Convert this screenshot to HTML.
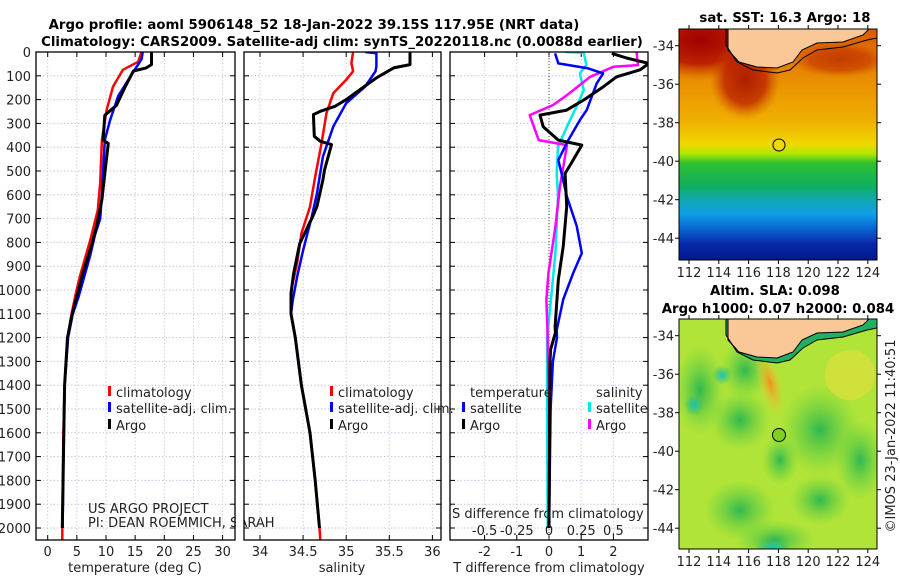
<!DOCTYPE html>
<html><head><meta charset="utf-8">
<style>
html,body{margin:0;padding:0;background:#fff;}
svg{display:block;font-family:"DejaVu Sans","Liberation Sans",sans-serif;}
.t{font-weight:bold;font-size:13.3px;fill:#000;}
.tk{font-size:13px;fill:#222;}
.lg{font-size:13px;fill:#222;}
</style></head>
<body>
<svg id="fig" width="900" height="580" viewBox="0 0 900 580" xmlns="http://www.w3.org/2000/svg">
<defs>
<clipPath id="c1"><rect x="36" y="52" width="199" height="488"/></clipPath>
<clipPath id="c2"><rect x="244" y="52" width="197" height="488"/></clipPath>
<clipPath id="c3"><rect x="450" y="52" width="198" height="488"/></clipPath>
<clipPath id="cm1"><rect x="679" y="29" width="198" height="231"/></clipPath>
<clipPath id="cm2"><rect x="679" y="319" width="198" height="230"/></clipPath>
<linearGradient id="sstg" x1="0" y1="0" x2="0" y2="1">
<stop offset="0" stop-color="#d85a00"/><stop offset="0.2" stop-color="#e88a00"/>
<stop offset="0.4" stop-color="#f0b000"/><stop offset="0.5" stop-color="#f0d800"/>
<stop offset="0.54" stop-color="#b0e800"/><stop offset="0.58" stop-color="#30c030"/>
<stop offset="0.68" stop-color="#10b060"/><stop offset="0.74" stop-color="#10a8b0"/>
<stop offset="0.8" stop-color="#10a0e8"/><stop offset="0.87" stop-color="#0860d0"/>
<stop offset="0.93" stop-color="#0828a8"/><stop offset="1" stop-color="#001890"/>
</linearGradient>
<radialGradient id="redb"><stop offset="0" stop-color="#a00000"/><stop offset="0.6" stop-color="#b81800" stop-opacity="0.9"/><stop offset="1" stop-color="#d05000" stop-opacity="0"/></radialGradient>
<radialGradient id="grb"><stop offset="0" stop-color="#30b850"/><stop offset="1" stop-color="#60d040" stop-opacity="0"/></radialGradient>
<radialGradient id="orb"><stop offset="0" stop-color="#f09020"/><stop offset="1" stop-color="#f0d030" stop-opacity="0"/></radialGradient>
<radialGradient id="cyb"><stop offset="0" stop-color="#10c8c0"/><stop offset="1" stop-color="#30b870" stop-opacity="0"/></radialGradient>
</defs>

<text class="t" x="314" y="29" text-anchor="middle">Argo profile: aoml 5906148_52 18-Jan-2022 39.15S 117.95E (NRT data)</text>
<text class="t" x="342" y="46" text-anchor="middle">Climatology: CARS2009. Satellite-adj clim: synTS_20220118.nc (0.0088d earlier)</text>

<g id="p1"></g>
<g id="p2"></g>
<g id="p3"></g>

<!-- SST map -->
<g>
<g clip-path="url(#cm1)">
<rect x="679" y="29" width="198" height="231" fill="url(#sstg)"/>
<ellipse cx="700" cy="40" rx="70" ry="40" fill="url(#redb)"/>
<ellipse cx="745" cy="80" rx="35" ry="40" fill="url(#redb)" opacity="0.8"/>
<ellipse cx="840" cy="60" rx="50" ry="18" fill="url(#redb)" opacity="0.5"/>
<path d="M728,29 L728,50 739,62 757,67 777,68 793,62 802,50 817,43 843,42 863,35 870,28 Z" fill="#f9c896"/>
<path d="M728,29 L728,50 739,62 757,67 777,68 793,62 802,50 817,43 843,42 863,35 870,28" fill="none" stroke="#000"/>
<path d="M726,29 L726,45 737,62 753,70 777,73 790,70 803,58 817,50 843,47 867,40 877,38" fill="none" stroke="#000"/>
</g>
<rect x="679" y="29" width="198" height="231" fill="none" stroke="#000"/>
<circle cx="779" cy="145" r="6" fill="#f0d800" stroke="#000"/>
<text class="t" x="785" y="22" text-anchor="middle">sat. SST: 16.3 Argo: 18</text>
</g>

<!-- SLA map -->
<g>
<g clip-path="url(#cm2)">
<rect x="679" y="319" width="198" height="230" fill="#b0e438"/>
<ellipse cx="700" cy="390" rx="25" ry="45" fill="url(#grb)"/>
<ellipse cx="740" cy="420" rx="30" ry="30" fill="url(#grb)"/>
<ellipse cx="820" cy="430" rx="40" ry="45" fill="url(#grb)"/>
<ellipse cx="860" cy="460" rx="25" ry="40" fill="url(#grb)"/>
<ellipse cx="740" cy="510" rx="35" ry="30" fill="url(#grb)"/>
<ellipse cx="820" cy="500" rx="30" ry="25" fill="url(#grb)"/>
<ellipse cx="775" cy="540" rx="40" ry="20" fill="url(#grb)"/>
<ellipse cx="780" cy="460" rx="18" ry="25" fill="url(#grb)"/>
<ellipse cx="745" cy="370" rx="25" ry="30" fill="url(#grb)"/>
<ellipse cx="770" cy="383" rx="12" ry="35" fill="url(#orb)" transform="rotate(-15 770 383)"/>
<ellipse cx="850" cy="375" rx="25" ry="25" fill="#e8e040" opacity="0.6"/>
<ellipse cx="694" cy="405" rx="10" ry="11" fill="url(#cyb)"/>
<ellipse cx="722" cy="375" rx="10" ry="10" fill="url(#cyb)"/>
<ellipse cx="773" cy="548" rx="18" ry="10" fill="url(#cyb)"/>
<path d="M726,319 L726,335 737,352 753,360 777,363 790,360 803,348 817,340 843,337 867,330 877,328 L877,319 Z" fill="#20b060"/>
<path d="M728,319 L728,340 739,352 757,357 777,358 793,352 802,340 817,333 843,332 863,325 870,318 Z" fill="#f9c896"/>
<path d="M728,319 L728,340 739,352 757,357 777,358 793,352 802,340 817,333 843,332 863,325 870,318" fill="none" stroke="#000"/>
<path d="M726,319 L726,335 737,352 753,360 777,363 790,360 803,348 817,340 843,337 867,330 877,328" fill="none" stroke="#000"/>
</g>
<rect x="679" y="319" width="198" height="230" fill="none" stroke="#000"/>
<circle cx="779" cy="435" r="6.5" fill="#80d020" stroke="#000"/>
<text class="t" x="775" y="295" text-anchor="middle">Altim. SLA: 0.098</text>
<text class="t" x="778" y="313" text-anchor="middle">Argo h1000: 0.07 h2000: 0.084</text>
</g>
<g id="maxes"></g>
<text class="tk" transform="translate(895,436) rotate(-90)" text-anchor="middle">©IMOS 23-Jan-2022 11:40:51</text>

<script>
// ---- data ----
var depthTicks=[0,100,200,300,400,500,600,700,800,900,1000,1100,1200,1300,1400,1500,1600,1700,1800,1900,2000];
var tempTicks=[0,5,10,15,20,25,30];
var salTicks=[34,34.5,35,35.5,36];
var diffTicks=[-2,-1,0,1,2];
var sdiffLabels=["-0.5","-0.25","0","0.25","0.5"];
var sdiffTicks=[-0.5,-0.25,0,0.25,0.5];

var tClimD=[0,41,75,146,244,370,551,664,790,944,1028,1100,1200,1400,1600,2000,2050];
var tClimV=[16.1,15.5,12.9,11.2,10.1,9.3,9.0,8.6,7.3,5.5,4.7,4.1,3.4,2.9,2.7,2.5,2.5];
var tSatD=[0,30,83,185,286,370,600,700,770,853,1028,1100,1200,1400,1700,2000];
var tSatV=[16.3,16.1,14.7,12.1,10.7,9.8,9.3,9.0,8.1,7.3,5.3,4.3,3.5,2.9,2.7,2.55];
var tArgoD=[0,53,67,80,146,224,266,370,384,510,620,730,815,940,1028,1100,1200,1400,2000];
var tArgoV=[17.8,17.8,16.9,14.7,13.3,11.8,9.8,9.5,10.4,9.8,9.3,8.4,7.5,5.9,5.0,4.2,3.4,2.9,2.5];

var sClimD=[0,47,81,117,173,258,370,524,650,762,888,986,1035,1100,1200,1400,1600,1800,2000,2050];
var sClimV=[35.08,35.06,35.08,35.0,34.85,34.77,34.72,34.64,34.58,34.48,34.43,34.37,34.36,34.36,34.41,34.48,34.58,34.64,34.69,34.7];
var sSatD=[0,5,60,81,145,215,313,440,595,693,833,945,1042,1100,1200,1400,1600,1800,2000];
var sSatV=[35.22,35.35,35.35,35.34,35.22,35.0,34.85,34.73,34.66,34.6,34.5,34.43,34.38,34.36,34.41,34.48,34.58,34.64,34.69];
var sArgoD=[0,53,67,109,158,200,228,249,263,354,375,389,494,537,650,692,805,931,1014,1100,1200,1400,1600,1800,2000];
var sArgoV=[35.74,35.74,35.55,35.35,35.16,35.0,34.87,34.7,34.62,34.63,34.7,34.83,34.75,34.73,34.66,34.61,34.46,34.39,34.36,34.36,34.41,34.48,34.58,34.64,34.69];

var dTSatD=[6,48,69,90,132,244,286,370,454,510,605,731,845,930,1040,1168,1200,1300,1500,2000];
var dTSatV=[0.19,0.29,1.22,1.68,1.48,1.17,0.96,0.6,0.29,0.39,0.55,0.86,1.02,0.75,0.44,0.24,0.25,0.12,0.05,0.0];
var dTArgoD=[6,25,48,75,104,146,202,244,265,314,370,391,466,510,650,818,958,1154,1180,1250,1300,2000];
var dTArgoV=[1.95,2.41,3.1,2.83,2.1,1.69,1.07,0.55,-0.28,-0.18,0.29,1.02,0.7,0.5,0.55,0.44,0.29,0.19,0.2,0.05,0.03,0.0];
var dSArgoD=[0,55,62,104,181,223,265,370,391,566,734,930,1040,1200,1500,2000];
var dSArgoV=[0.68,0.69,0.5,0.32,0.14,0.03,-0.15,-0.08,0.14,0.085,0.05,-0.005,-0.02,-0.01,0,0];
var dSSatD=[0,3,55,90,160,244,314,398,510,608,845,1070,1200,1500,2000];
var dSSatV=[0.125,0.27,0.29,0.24,0.27,0.2,0.14,0.07,0.06,0.07,0.05,0.01,-0.015,-0.015,-0.01];

var lonTicks=[112,114,116,118,120,122,124];
var latTicks=[-34,-36,-38,-40,-42,-44];

// ---- helpers ----
var NS="http://www.w3.org/2000/svg";
function mk(tag,attrs,parent){var e=document.createElementNS(NS,tag);for(var k in attrs)e.setAttribute(k,attrs[k]);parent.appendChild(e);return e;}
function yD(d){return 52+d*0.238;}
function xT(t){return 47.7+t*5.83;}
function xS(s){return 260+(s-34)*86.2;}
function xDf(v){return 549+v*32.2;}
function xSd(v){return 549+v*4*32.2;}

function panel(g,x0,x1,xs,xticks,xfmt,clip,leftLabels){
  var y0=52,y1=540;
  depthTicks.forEach(function(d){
    var ln=mk('line',{x1:x0,x2:x1,y1:yD(d),y2:yD(d),stroke:'#c4c4ee','stroke-dasharray':'1.5,2','stroke-width':1},g);
    
    
    mk('line',{x1:x0,x2:x0+5,y1:yD(d),y2:yD(d),stroke:'#000'},g);
    mk('line',{x1:x1-5,x2:x1,y1:yD(d),y2:yD(d),stroke:'#000'},g);
    if(leftLabels){
      var t=mk('text',{x:31,y:yD(d)+5,'text-anchor':'end','class':'tk'},g);
      t.textContent=d;
      
      
    }
  });
  xticks.forEach(function(v){
    var X=xs(v);
    var ln=mk('line',{x1:X,x2:X,y1:y0,y2:y1,stroke:'#dcc8dc','stroke-dasharray':'1.5,2'},g);
    
    
    mk('line',{x1:X,x2:X,y1:y1-5,y2:y1,stroke:'#000'},g);
    mk('line',{x1:X,x2:X,y1:y0,y2:y0+5,stroke:'#000'},g);
    var t=mk('text',{x:X,y:556,'text-anchor':'middle','class':'tk'},g);
    t.textContent=xfmt(v);
    
    
  });
}
function line(g,D,V,xs,color,w,name){
  var p=D.map(function(d,i){return xs(V[i]).toFixed(1)+','+yD(d).toFixed(1);}).join(' ');
  var e=mk('polyline',{points:p,fill:'none',stroke:color,'stroke-width':w,'stroke-linejoin':'round'},g);
  
  
}
function frame(g,x0,x1){mk('rect',{x:x0,y:52,width:x1-x0,height:488,fill:'none',stroke:'#000','stroke-width':1.3},g);}
function txt(g,x,y,s,cls,name,anchor){
  var t=mk('text',{x:x,y:y,'class':cls,'text-anchor':anchor||'start'},g);t.textContent=s;
  
  
  return t;
}
function leg(g,x,y,color,label,name){
  mk('rect',{x:x,y:y-11,width:3,height:10,fill:color},g);
  txt(g,x+8,y,label,'lg',name);
}

// panel 1
var g1=document.getElementById('p1');
panel(g1,36,235,xT,tempTicks,function(v){return v;},'c1',true);
var c1=mk('g',{'clip-path':'url(#c1)'},g1);
line(c1,tClimD,tClimV,xT,'#ff0000',2.5,'temp-climatology-line');
line(c1,tSatD,tSatV,xT,'#0000ff',2.5,'temp-satellite-line');
line(c1,tArgoD,tArgoV,xT,'#000000',3,'temp-argo-line');
frame(g1,36,235);
txt(g1,135,572,'temperature (deg C)','tk','temp-x-axis-title','middle');
leg(g1,108,397,'#ff0000','climatology','legend-climatology');
leg(g1,108,413,'#0000ff','satellite-adj. clim.','legend-satellite');
leg(g1,108,430,'#000','Argo','legend-argo');
txt(g1,88,513,'US ARGO PROJECT','lg','project-label');
txt(g1,88,527,'PI: DEAN ROEMMICH, SARAH','lg','pi-label');

// panel 2
var g2=document.getElementById('p2');
mk('rect',{x:236,y:500,width:8,height:40,fill:'#fff'},g2);
panel(g2,244,441,xS,salTicks,function(v){return v;},'c2',false);
var c2=mk('g',{'clip-path':'url(#c2)'},g2);
line(c2,sClimD,sClimV,xS,'#ff0000',2.5,'sal-climatology-line');
line(c2,sSatD,sSatV,xS,'#0000ff',2.5,'sal-satellite-line');
line(c2,sArgoD,sArgoV,xS,'#000000',3,'sal-argo-line');
frame(g2,244,441);
txt(g2,342,572,'salinity','tk','sal-x-axis-title','middle');
leg(g2,330,397,'#ff0000','climatology','legend-climatology');
leg(g2,330,413,'#0000ff','satellite-adj. clim.','legend-satellite');
leg(g2,330,430,'#000','Argo','legend-argo');

// panel 3
var g3=document.getElementById('p3');
panel(g3,450,648,xDf,diffTicks,function(v){return v;},'c3',false);
var zl=mk('line',{x1:549,x2:549,y1:52,y2:540,stroke:'#405030','stroke-dasharray':'1,2'},g3);


var c3=mk('g',{'clip-path':'url(#c3)'},g3);
line(c3,dSSatD,dSSatV,xSd,'#00e8e8',2.5,'sdiff-satellite-line');
line(c3,dSArgoD,dSArgoV,xSd,'#ff00ff',2.5,'sdiff-argo-line');
line(c3,dTSatD,dTSatV,xDf,'#0000ff',2.5,'tdiff-satellite-line');
line(c3,dTArgoD,dTArgoV,xDf,'#000000',3,'tdiff-argo-line');
frame(g3,450,648);
txt(g3,549,572,'T difference from climatology','tk','tdiff-x-axis-title','middle');
txt(g3,452,518,'S difference from climatology','tk','sdiff-axis-title');
sdiffTicks.forEach(function(v,i){
  txt(g3,xSd(v),535,sdiffLabels[i],'tk','sdiff-tick-label','middle');
});
txt(g3,470,397,'temperature','lg','legend-temperature-header');
txt(g3,596,397,'salinity','lg','legend-salinity-header');
leg(g3,462,413,'#0000ff','satellite','legend-t-satellite');
leg(g3,462,430,'#000','Argo','legend-t-argo');
leg(g3,588,413,'#00e8e8','satellite','legend-s-satellite');
leg(g3,588,430,'#ff00ff','Argo','legend-s-argo');

// map axes
var gm=document.getElementById('maxes');
function lonX(l){return 689+(l-112)*14.9;}
[[29,260,45.7],[319,549,335.7]].forEach(function(m){
  var top=m[0],bot=m[1],l34=m[2];
  lonTicks.forEach(function(l){
    mk('line',{x1:lonX(l),x2:lonX(l),y1:bot,y2:bot+4,stroke:'#000'},gm);
    mk('line',{x1:lonX(l),x2:lonX(l),y1:top-4,y2:top,stroke:'#000'},gm);
    txt(gm,lonX(l),bot+17,String(l),'tk','lon-tick-label','middle');
  });
  latTicks.forEach(function(la){
    var y=l34+(-34-la)*19.25;
    mk('line',{x1:675,x2:679,y1:y,y2:y,stroke:'#000'},gm);
    mk('line',{x1:877,x2:881,y1:y,y2:y,stroke:'#000'},gm);
    txt(gm,674,y+5,String(la),'tk','lat-tick-label','end');
  });
});
</script>
</svg>
</body></html>
